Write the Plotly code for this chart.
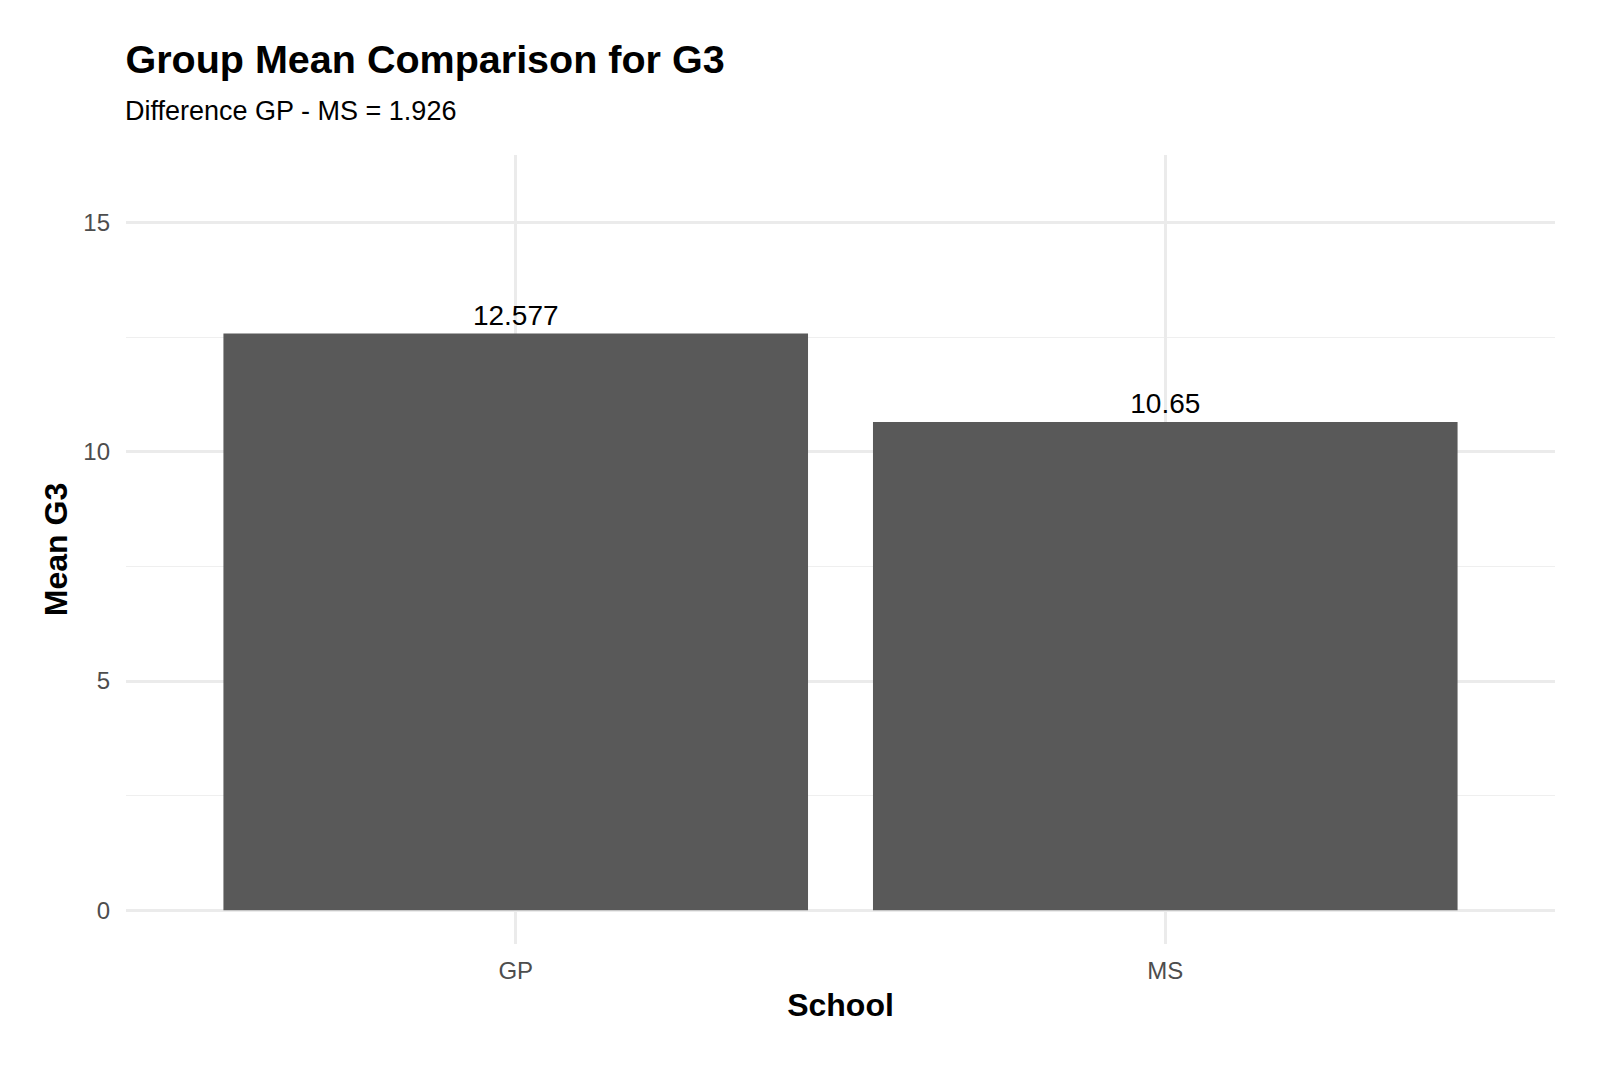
import plotly.graph_objects as go

schools = ["GP", "MS"]
mean_g3 = [12.577, 10.65]
labels = ["12.577", "10.65"]
title_text = "Group Mean Comparison for G3"
subtitle_text = "Difference GP - MS = 1.926"

FONT = "Liberation Sans, Arial, Helvetica, sans-serif"
W, H = 1600, 1067
L, R, T, B = 125.5, 45, 155, 123

fig = go.Figure(
    go.Bar(
        x=schools,
        y=mean_g3,
        width=0.9,
        marker=dict(color="#595959", line=dict(width=0)),
        text=labels,
        textposition="outside",
        textfont=dict(family=FONT, size=28, color="black"),
        cliponaxis=False,
        hoverinfo="x+y",
    )
)

fig.update_layout(
    width=W,
    height=H,
    margin=dict(l=L, r=R, t=T, b=B, pad=0),
    paper_bgcolor="white",
    plot_bgcolor="white",
    showlegend=False,
    font=dict(family=FONT),
    title=dict(
        text="<b>" + title_text + "</b>",
        font=dict(family=FONT, size=39.5, color="black"),
        x=L / W,
        xanchor="left",
        xref="container",
        y=1 - 59 / H,
        yanchor="middle",
        yref="container",
    ),
    annotations=[
        dict(
            text=subtitle_text,
            xref="paper",
            yref="paper",
            x=0,
            xanchor="left",
            xshift=-3,
            y=1 + (T - 111) / (H - T - B),
            yanchor="middle",
            showarrow=False,
            font=dict(family=FONT, size=27, color="black"),
        )
    ],
    bargap=0.1,
)

fig.update_xaxes(
    type="category",
    range=[-0.6, 1.6],
    showgrid=True,
    gridcolor="#EBEBEB",
    gridwidth=2.5,
    zeroline=False,
    showline=False,
    ticks="",
    tickfont=dict(family=FONT, size=24, color="#4D4D4D"),
    ticklabelstandoff=10,
    title=dict(text="<b>School</b>", font=dict(family=FONT, size=32, color="black"), standoff=10),
)

fig.update_yaxes(
    range=[-0.735, 16.47],
    tickvals=[0, 5, 10, 15],
    ticktext=["0", "5", "10", "15"],
    showgrid=True,
    gridcolor="#EBEBEB",
    gridwidth=2.5,
    minor=dict(tickvals=[2.5, 7.5, 12.5], showgrid=True, gridcolor="#EFEFEF", gridwidth=1.4, ticks=""),
    zeroline=False,
    showline=False,
    ticks="",
    tickfont=dict(family=FONT, size=24, color="#4D4D4D"),
    ticklabelstandoff=15,
    title=dict(text="<b>Mean G3</b>", font=dict(family=FONT, size=32, color="black"), standoff=6),
)

fig.write_html("out.html")
